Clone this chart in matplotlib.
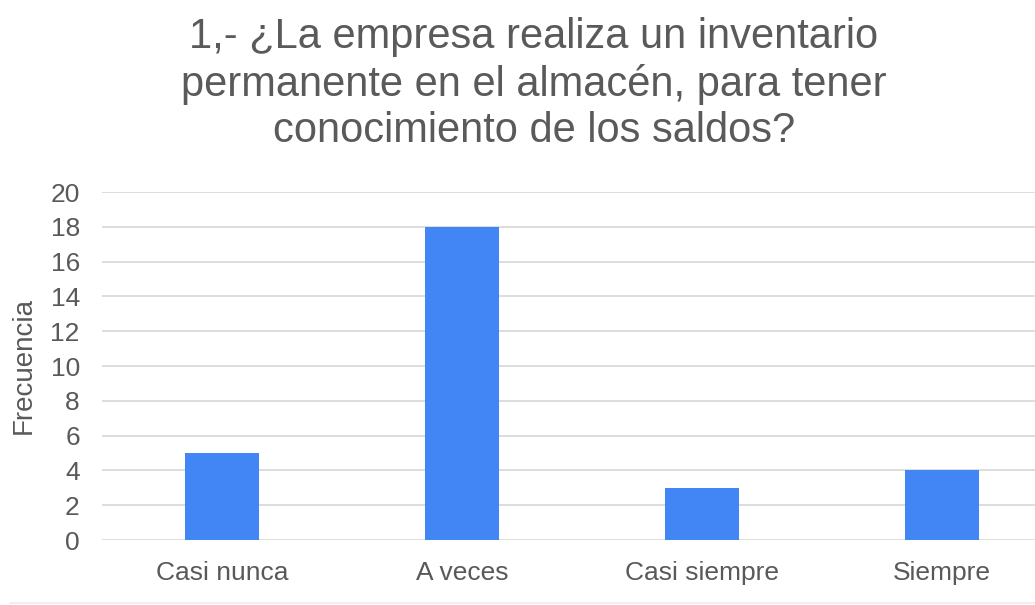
import matplotlib.pyplot as plt
from matplotlib.lines import Line2D

categories = ["Casi nunca", "A veces", "Casi siempre", "Siempre"]
frecuencia = [5, 18, 3, 4]
y_ticks = [0, 2, 4, 6, 8, 10, 12, 14, 16, 18, 20]
title = "1,- ¿La empresa realiza un inventario\npermanente en el almacén, para tener\nconocimiento de los saldos?"

plt.rcParams["font.family"] = ["Liberation Sans", "DejaVu Sans"]

W, H = 1035, 605
fig = plt.figure(figsize=(W / 100, H / 100), dpi=100)
ax = fig.add_axes([102 / W, 65 / H, 960 / W, 348 / H])

x = range(len(categories))
ax.bar(x, frecuencia, width=0.31, color="#4285F4", zorder=3)

ax.set_xlim(-0.5, len(categories) - 0.5)
ax.set_ylim(0, 20)
ax.set_yticks(y_ticks)
ax.set_xticks(list(x))
ax.set_xticklabels(categories)
ax.tick_params(axis="both", length=0, labelsize=19, colors="#595959")
ax.tick_params(axis="y", pad=16)
ax.tick_params(axis="x", pad=15)
ax.grid(axis="y", color="#dadada", linewidth=1.3, zorder=0)
for s in ax.spines.values():
    s.set_visible(False)

ax.set_ylabel("Frecuencia", fontsize=20, color="#595959", labelpad=10)

fig.text(534 / W, 1 - 84 / H, title, ha="center", va="center",
         fontsize=30, color="#5a5a5a", linespacing=1.2)

fig.add_artist(Line2D([10 / W, 1], [2 / H, 2 / H], color="#ececec", linewidth=1.2))

fig.savefig("out.png", dpi=100)
